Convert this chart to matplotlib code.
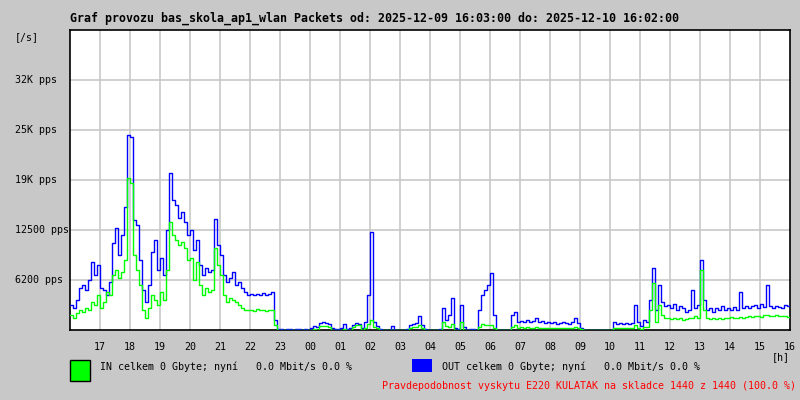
import matplotlib
matplotlib.use("Agg")
import matplotlib.pyplot as plt
from matplotlib.patches import Rectangle

# ---- data (packets per second, one sample every 6 minutes from 16:00) ----
sample_minutes = 6
out_pps = [
    3125, 2750, 3750, 5250, 5625, 5000, 6250, 8500, 6875, 8125,
    5250, 5000, 4375, 6000, 10875, 12750, 9375, 11875, 15375, 24375,
    24125, 13750, 13125, 8750, 5000, 3500, 5625, 9750, 11250, 7500,
    9000, 6875, 12500, 19625, 16250, 15625, 14000, 14750, 13500, 11875,
    12500, 10000, 11250, 8125, 6875, 7750, 7250, 7500, 13875, 10625,
    9375, 6875, 6000, 6500, 7250, 5625, 6000, 5250, 4750, 4375,
    4500, 4375, 4500, 4375, 4625, 4375, 4500, 4750, 1250, 125,
    125, 0, 125, 125, 0, 125, 125, 0, 125, 0,
    250, 500, 375, 875, 1000, 875, 750, 250, 125, 125,
    250, 750, 125, 250, 625, 875, 750, 250, 1000, 4375,
    12250, 1000, 500, 125, 0, 0, 0, 500, 0, 0,
    0, 0, 125, 625, 750, 875, 1750, 625, 125, 0,
    0, 0, 0, 125, 2750, 1250, 1875, 4000, 250, 125,
    3125, 375, 0, 125, 125, 0, 2500, 4375, 5000, 5625,
    7125, 1875, 0, 0, 0, 0, 0, 1875, 2250, 1000,
    1125, 1000, 1250, 1000, 1125, 1500, 1000, 1125, 875, 1000,
    875, 1000, 750, 875, 1000, 875, 750, 1000, 1500, 875,
    250, 0, 0, 0, 0, 0, 0, 0, 0, 0,
    0, 1000, 750, 875, 750, 875, 750, 875, 3125, 1000,
    500, 1250, 1000, 3750, 7750, 2500, 5625, 3500, 3000, 3125,
    2750, 3250, 2500, 3000, 2750, 2250, 2500, 5000, 2750, 3125,
    8750, 3750, 2500, 2750, 2250, 2750, 2500, 3000, 2500, 2750,
    2500, 2875, 2500, 4750, 2750, 3000, 2750, 3000, 3125, 2750,
    3250, 2875, 5625, 3000, 2750, 3000, 2875, 2750, 3125, 3000,
]
in_pps = [
    1875, 1500, 2125, 2500, 2250, 2750, 2500, 3500, 3125, 4375,
    2750, 3500, 4750, 4375, 6875, 7500, 6500, 7250, 8750, 19000,
    18375, 9375, 7500, 5625, 2500, 1500, 2750, 4375, 3750, 3125,
    4750, 3750, 7500, 13500, 11875, 11250, 10625, 11000, 10250, 8750,
    9000, 6250, 8500, 5625, 4375, 5250, 4750, 5000, 10250, 8125,
    6875, 4375, 3500, 4000, 3750, 3500, 3125, 2750, 2500, 2500,
    2500, 2375, 2625, 2500, 2500, 2375, 2500, 2500, 625, 0,
    0, 0, 0, 0, 0, 0, 0, 0, 0, 0,
    0, 125, 0, 500, 500, 500, 375, 0, 0, 0,
    0, 125, 0, 0, 375, 625, 625, 0, 250, 750,
    1250, 375, 250, 0, 0, 0, 0, 0, 0, 0,
    0, 0, 0, 250, 375, 375, 625, 250, 0, 0,
    0, 0, 0, 0, 1000, 500, 375, 750, 0, 0,
    1000, 0, 0, 0, 0, 0, 375, 750, 625, 625,
    625, 250, 0, 0, 0, 0, 0, 375, 625, 250,
    375, 250, 375, 250, 250, 375, 250, 250, 250, 250,
    250, 250, 250, 250, 250, 250, 250, 250, 375, 250,
    125, 0, 0, 0, 0, 0, 0, 0, 0, 0,
    0, 250, 250, 250, 250, 250, 250, 250, 625, 250,
    125, 375, 375, 2500, 5875, 1000, 3125, 1875, 1500, 1500,
    1375, 1500, 1375, 1500, 1250, 1375, 1500, 1500, 1750, 1500,
    7500, 2500, 1500, 1375, 1500, 1375, 1500, 1375, 1500, 1500,
    1625, 1500, 1500, 1625, 1500, 1625, 1750, 1625, 1750, 1750,
    1625, 1875, 1875, 1750, 1750, 1875, 1750, 1750, 1750, 1625,
]
x_tick_labels = ["17", "18", "19", "20", "21", "22", "23", "00", "01", "02", "03", "04",
                 "05", "06", "07", "08", "09", "10", "11", "12", "13", "14", "15", "16"]
y_tick_values = [6250, 12500, 18750, 25000, 31250]
y_tick_labels = ["6200 pps", "12500 pps", "19K pps", "25K pps", "32K pps"]
y_max = 37500

title = "Graf provozu bas_skola_ap1_wlan Packets od: 2025-12-09 16:03:00 do: 2025-12-10 16:02:00"
in_text = "IN celkem 0 Gbyte; nyní   0.0 Mbit/s 0.0 %"
out_text = "OUT celkem 0 Gbyte; nyní   0.0 Mbit/s 0.0 %"
note_text = "Pravdepodobnost vyskytu E220 KULATAK na skladce 1440 z 1440 (100.0 %)"

BG = "#c8c8c8"
GRID = "#c8c8c8"
GREEN = "#00ff00"
BLUE = "#0000ff"
MONO = ["DejaVu Sans Mono"]
W, H = 800, 400

fig = plt.figure(figsize=(8, 4), dpi=100, facecolor=BG)
ax = fig.add_axes([70 / W, 70 / H, 720 / W, 300 / H])
ax.set_facecolor("white")

hours = [i * sample_minutes / 60 for i in range(len(out_pps))]
hx = hours + [hours[-1] + sample_minutes / 60]
ax.step(hx, out_pps + [out_pps[-1]], where="post", color=BLUE, lw=1.0, zorder=3)
ax.step(hx, in_pps + [in_pps[-1]], where="post", color=GREEN, lw=1.0, zorder=4)

ax.set_xlim(0, 24)
ax.set_ylim(0, y_max)
for h in range(1, 24):
    ax.axvline(h, color=GRID, lw=1.2, zorder=1)
for v in y_tick_values:
    ax.axhline(v, color=GRID, lw=1.2, zorder=1)
ax.set_xticks([])
ax.set_yticks([])
for s in ax.spines.values():
    s.set_color("black")
    s.set_linewidth(1.2)

def fx(px):
    return px / W

def fy(py):
    return 1 - py / H

fig.text(fx(70), fy(18), title, family=MONO, fontsize=8.4, fontweight="bold",
         ha="left", va="center", color="black")
fig.text(fx(15), fy(37), "[/s]", family=MONO, fontsize=7.2, ha="left", va="center")
for v, lab in zip(y_tick_values, y_tick_labels):
    py = 330 - v / y_max * 300
    fig.text(fx(15), fy(py), lab, family=MONO, fontsize=7.2, ha="left", va="center")
for i, lab in enumerate(x_tick_labels):
    px = 100 + 30 * i
    fig.text(fx(px), fy(347), lab, family=MONO, fontsize=7.2, ha="center", va="center")
fig.text(fx(790), fy(357), "[h]", family=MONO, fontsize=7.2, ha="right", va="center")

fig.patches.append(Rectangle((fx(70), fy(381)), 20 / W, 21 / H, transform=fig.transFigure,
                             facecolor=GREEN, edgecolor="black", lw=1.0))
fig.text(fx(100), fy(367), in_text, family=MONO, fontsize=7.2, ha="left", va="center")
fig.patches.append(Rectangle((fx(412), fy(372)), 20 / W, 13 / H, transform=fig.transFigure,
                             facecolor=BLUE, edgecolor="none"))
fig.text(fx(442), fy(367), out_text, family=MONO, fontsize=7.2, ha="left", va="center")
fig.text(fx(796), fy(386), note_text, family=MONO, fontsize=7.2, ha="right", va="center",
         color="#ff0000")

fig.savefig("out.png", dpi=100, facecolor=BG)
